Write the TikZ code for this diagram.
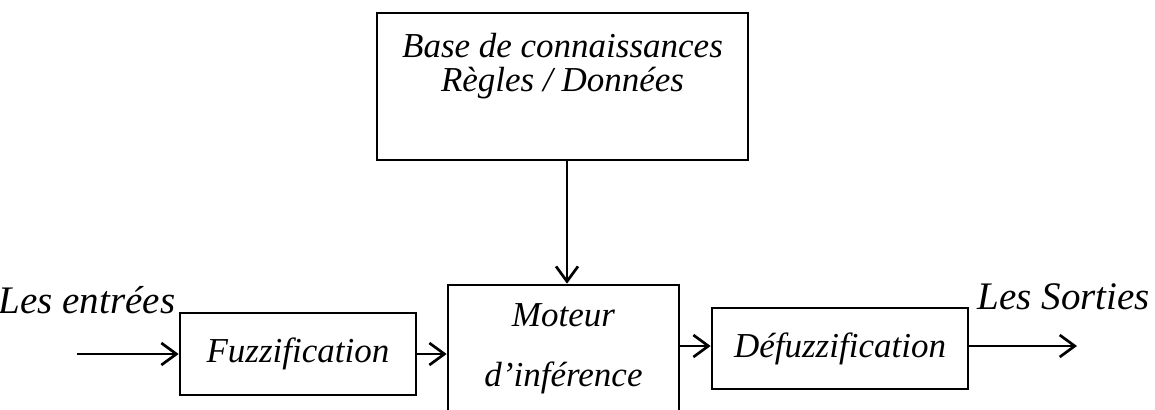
\documentclass[tikz,border=0pt]{standalone}
\usepackage{fontspec}
\setmainfont{Liberation Serif}
\usetikzlibrary{arrows.meta,positioning}

\begin{document}
\begin{tikzpicture}[x=0.5pt,y=-0.5pt,
              every node/.style = {font=\fontsize{17.5}{16.7}\selectfont\itshape,
                align=center, inner sep=0pt},
              bloc/.style = {draw, line width=1.35pt},
              fleche/.style = {-{Straight Barb[length=7.5pt,width=11pt,line width=1.35pt]},
                line width=1.35pt}]
  \useasboundingbox (0,0) rectangle (1155,409);
  \clip (0,0) rectangle (1155,409);
  % blocs
  \node[bloc, minimum width=185.5pt, minimum height=73.5pt] (base) at (562.5,86.5) {};
  \node (base texte) at (562.5,66) {Base de connaissances\\Règles / Données};
  \node[bloc, minimum width=118pt, minimum height=41pt] (fuzz) at (298,354) {Fuzzification};
  \node[bloc, minimum width=115.5pt, minimum height=63.5pt,
        font=\fontsize{17.5}{30}\selectfont\itshape] (moteur) at (563.5,348.5)
        {Moteur\\d’inférence};
  \node[bloc, minimum width=128pt, minimum height=40.5pt] (defuz) at (840,348.5) {Défuzzification};
  % entrees / sorties
  \node[font=\fontsize{19.5}{19.5}\selectfont\itshape] (entrees) at (87,300) {Les entrées};
  \node[font=\fontsize{19.5}{19.5}\selectfont\itshape] (sorties) at (1064,297) {Les Sorties};
  \coordinate (entree) at (77,354);
  \coordinate (sortie) at (1077,346);
  % fleches
  \draw[fleche] (entree) -- (fuzz.west);
  \draw[fleche] (fuzz.east) -- (fuzz.east -| moteur.west);
  \draw[fleche] (moteur.east |- 0,346) -- (defuz.west |- 0,346);
  \draw[fleche] (defuz.east |- sortie) -- (sortie);
  \draw[fleche] (base.south -| 567,0) -- (moteur.north -| 567,0);
\end{tikzpicture}
\end{document}
